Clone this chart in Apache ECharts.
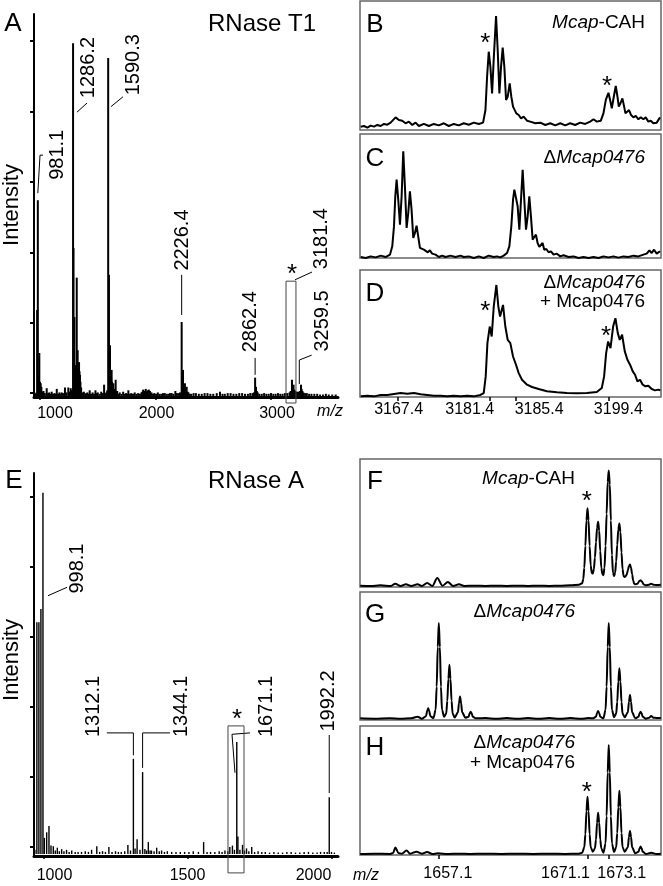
<!DOCTYPE html>
<html><head><meta charset="utf-8">
<script src="https://cdn.jsdelivr.net/npm/echarts@6/dist/echarts.min.js"></script>
<style>html,body{margin:0;padding:0;background:#fff;}#c{width:663px;height:886px;}</style>
</head><body><div id="c"></div>
<script>
// ---------- DATA ----------
// Panel A: RNase T1 full spectrum [m/z, intensity]
const spectrumA = [[952,0.05],[960,0.03],[968,0.04],[975,1.22],[981.1,2.78],[988,0.30],[994,0.61],[1000,0.20],[1006,0.18],[1012,0.13],[1020,0.06],[1030,0.07],[1042,0.04],[1058,0.11],[1070,0.04],[1080,0.05],[1090,0.03],[1101,0.06],[1112,0.03],[1125,0.04],[1135,0.03],[1145,0.10],[1156,0.03],[1168,0.05],[1178,0.03],[1188,0.05],[1200,0.04],[1216,0.12],[1230,0.05],[1245,0.12],[1255,0.06],[1266,0.11],[1276,0.08],
[1286.2,5.01],[1290,2.10],[1294,0.45],[1298,1.12],[1302,0.42],[1306,0.44],[1310,0.40],[1314,0.43],[1318,1.68],[1322,0.42],[1326,0.65],[1330,0.38],[1334,0.41],[1338,0.48],[1342,0.35],[1346,0.30],[1350,0.20],[1356,0.12],[1365,0.05],
[1372,0.03],[1380,0.06],[1392,0.03],[1400,0.04],[1410,0.05],[1420,0.03],[1430,0.08],[1442,0.03],[1455,0.05],[1468,0.03],[1480,0.08],[1490,0.04],[1500,0.05],[1515,0.03],[1530,0.06],[1542,0.04],[1555,0.16],[1565,0.04],[1575,0.05],[1582,0.08],
[1590.3,4.80],[1597,1.72],[1602,0.40],[1606,0.72],[1612,0.30],[1616,0.25],[1620,0.37],[1624,0.20],[1628,0.15],[1635,0.18],[1645,0.10],[1650,0.08],[1655,0.23],[1662,0.06],[1668,0.07],[1680,0.03],[1690,0.05],[1705,0.03],[1720,0.06],[1732,0.03],[1745,0.04],[1755,0.03],[1765,0.08],[1778,0.03],[1790,0.04],[1805,0.03],[1820,0.05],[1835,0.03],[1850,0.04],[1865,0.03],[1878,0.05],[1885,0.06],[1893,0.09],[1898,0.06],[1905,0.07],[1910,0.06],[1915,0.10],[1922,0.06],[1930,0.08],[1936,0.06],[1942,0.09],[1947,0.06],[1952,0.07],[1958,0.04],[1965,0.05],[1978,0.03],[1990,0.04],[2005,0.03],[2020,0.05],[2035,0.03],[2050,0.03],[2065,0.04],[2080,0.04],[2095,0.03],[2110,0.03],[2125,0.04],[2140,0.04],[2155,0.03],[2172,0.07],[2185,0.04],[2200,0.04],[2212,0.05],
[2226.4,1.05],[2232,0.20],[2238,0.37],[2246,0.12],[2255,0.18],[2262,0.08],[2270,0.13],[2278,0.06],[2285,0.05],[2297,0.03],[2310,0.03],[2330,0.04],[2350,0.04],[2375,0.03],[2400,0.03],[2425,0.04],[2450,0.04],[2475,0.03],[2500,0.03],[2530,0.04],[2558,0.06],[2580,0.03],[2600,0.03],[2625,0.04],[2650,0.04],[2675,0.03],[2700,0.03],[2725,0.04],[2750,0.04],[2775,0.03],[2800,0.03],[2820,0.04],[2840,0.04],[2852,0.05],
[2862.4,0.26],[2870,0.13],[2877,0.07],[2885,0.05],[2900,0.03],[2920,0.03],[2940,0.04],[2960,0.03],[2980,0.03],[3000,0.04],[3020,0.03],[3040,0.03],[3060,0.04],[3080,0.03],[3100,0.03],[3120,0.04],[3140,0.04],[3160,0.05],[3170,0.07],
[3181.4,0.23],[3188,0.12],[3195,0.16],[3202,0.09],[3210,0.07],[3225,0.06],[3240,0.06],[3250,0.07],[3259.5,0.16],[3265,0.10],[3272,0.07],[3280,0.05],[3295,0.04],[3310,0.04],[3330,0.03],[3350,0.03],[3375,0.03],[3400,0.03],[3425,0.02],[3450,0.02],[3475,0.03],[3500,0.02],[3530,0.02],[3560,0.02]];
// Panel E: RNase A full spectrum
const spectrumE = [[970,0.06],[977,3.31],[984,3.31],[991,3.50],[998.1,5.16],[1003,0.23],[1011,0.31],[1019,0.40],[1026,0.12],[1034,0.11],[1041,0.05],[1048,0.09],[1055,0.04],[1063,0.07],[1071,0.04],[1080,0.06],[1089,0.03],[1098,0.05],[1110,0.03],[1120,0.03],[1132,0.03],[1145,0.04],[1156,0.03],[1167,0.06],[1185,0.11],[1195,0.03],[1205,0.04],[1215,0.03],[1227,0.10],[1238,0.03],[1250,0.04],[1260,0.03],[1270,0.03],[1282,0.04],[1293,0.13],[1302,0.05],
[1312.1,1.36],[1318,0.08],[1325,0.21],[1335,0.06],[1344.1,1.17],[1352,0.07],[1358,0.05],[1364,0.17],[1370,0.05],[1375,0.05],[1384,0.04],[1393,0.09],[1402,0.04],[1410,0.05],[1420,0.03],[1430,0.04],[1445,0.03],[1460,0.03],[1475,0.03],[1490,0.03],[1505,0.03],[1520,0.04],[1538,0.03],[1556,0.17],[1568,0.03],[1580,0.03],[1595,0.03],[1610,0.04],[1620,0.03],[1630,0.05],[1640,0.04],[1647,0.10],[1656,0.12],[1663,0.06],
[1671.1,1.60],[1675,0.25],[1682,0.06],[1691,0.13],[1698,0.05],[1705,0.08],[1713,0.04],[1723,0.10],[1733,0.03],[1745,0.04],[1758,0.03],[1770,0.03],[1785,0.02],[1800,0.03],[1815,0.02],[1830,0.02],[1845,0.03],[1860,0.03],[1875,0.02],[1890,0.02],[1905,0.03],[1920,0.03],[1935,0.02],[1950,0.02],[1962,0.03],[1975,0.03],[1985,0.03],[1992.2,0.81],[2000,0.03],[2010,0.02]];
// Panels B-D (m/z 3162-3207), intensity in % of panel height
const traceB = [[3161.80,2.6],[3162.30,3.1],[3162.81,1.8],[3163.31,3.4],[3163.82,2.6],[3164.32,3.9],[3164.83,3.1],[3165.33,4.7],[3165.84,4.1],[3166.34,5.7],[3167.10,9.8],[3167.60,7.8],[3168.11,7.2],[3168.61,5.2],[3169.12,6.5],[3169.62,3.9],[3170.13,5.7],[3170.63,3.1],[3171.39,4.7],[3172.15,3.1],[3172.91,4.7],[3173.66,3.6],[3174.42,5.2],[3175.18,3.1],[3175.94,4.7],[3176.69,3.6],[3177.45,5.2],[3178.21,4.1],[3178.97,5.7],[3179.73,4.7],[3180.38,5.7],[3180.74,15.5],[3180.99,41.3],[3181.24,60.7],[3181.49,49.1],[3181.75,28.4],[3182.00,55.0],[3182.35,88.4],[3182.60,62.0],[3182.86,28.4],[3183.11,49.1],[3183.36,63.8],[3183.61,49.1],[3183.87,23.3],[3184.12,25.8],[3184.42,36.2],[3184.67,25.8],[3184.93,18.1],[3185.18,16.8],[3185.43,12.9],[3185.79,11.6],[3186.14,9.0],[3186.54,10.3],[3187.05,7.2],[3187.55,6.5],[3188.31,5.2],[3189.07,5.7],[3189.83,3.9],[3190.58,5.2],[3191.34,3.6],[3192.10,5.2],[3192.86,3.6],[3193.61,5.2],[3194.37,3.9],[3195.13,5.7],[3195.89,4.7],[3196.64,6.5],[3197.15,8.3],[3197.65,6.5],[3198.26,7.2],[3198.66,12.9],[3199.02,23.3],[3199.42,28.9],[3199.67,23.3],[3199.93,16.8],[3200.23,25.8],[3200.53,34.1],[3200.79,25.8],[3200.99,18.1],[3201.24,20.7],[3201.54,24.5],[3201.80,18.1],[3202.00,12.9],[3202.30,14.2],[3202.55,15.5],[3202.86,11.6],[3203.21,9.8],[3203.56,10.9],[3203.97,8.3],[3204.32,9.8],[3204.73,8.3],[3205.08,9.8],[3205.48,6.5],[3205.84,7.2],[3206.24,5.2],[3206.75,5.7],[3207.25,9.8]];
const traceC = [[3161.80,0.8],[3162.55,0],[3163.31,1.3],[3164.07,0.5],[3164.83,1.9],[3165.58,0.8],[3166.24,2.7],[3166.59,9.4],[3166.85,25.5],[3167.05,49.7],[3167.25,63.2],[3167.50,47.0],[3167.76,26.9],[3168.01,49.7],[3168.26,86.0],[3168.51,57.8],[3168.77,24.2],[3169.02,36.3],[3169.27,53.8],[3169.52,39.0],[3169.78,16.1],[3170.03,20.2],[3170.28,26.1],[3170.53,17.5],[3170.79,8.1],[3171.09,9.4],[3171.39,6.7],[3171.69,8.1],[3171.99,4.6],[3172.30,6.2],[3172.65,3.5],[3173.16,2.7],[3173.66,0.8],[3174.17,1.9],[3174.67,0.8],[3175.43,1.9],[3176.19,0.8],[3176.95,1.9],[3177.45,0.8],[3178.21,1.3],[3178.97,0],[3179.73,1.3],[3180.48,0],[3181.24,1.9],[3182.00,0.8],[3182.50,1.3],[3183.01,0.5],[3183.51,1.9],[3184.02,4.0],[3184.37,9.4],[3184.67,25.5],[3184.93,47.0],[3185.13,55.1],[3185.38,56.5],[3185.63,41.7],[3185.89,22.8],[3186.14,47.0],[3186.39,71.2],[3186.64,47.0],[3186.90,22.8],[3187.15,33.6],[3187.40,49.7],[3187.65,33.6],[3187.91,14.8],[3188.16,16.9],[3188.41,18.8],[3188.66,12.1],[3188.92,8.9],[3189.17,9.9],[3189.42,12.1],[3189.67,6.7],[3189.98,7.3],[3190.33,4.6],[3190.69,5.4],[3191.09,2.7],[3191.59,3.5],[3192.10,1.3],[3192.60,2.2],[3193.36,0.8],[3194.12,1.3],[3194.88,0],[3195.63,0.8],[3196.39,0],[3197.15,0.8],[3197.91,0],[3198.66,1.3],[3199.42,0.5],[3200.18,1.3],[3200.94,0.3],[3201.69,1.3],[3202.45,0.8],[3203.21,1.9],[3203.97,1.3],[3204.73,2.7],[3205.23,3.5],[3205.64,6.2],[3205.99,4.0],[3206.34,6.7],[3206.75,3.5],[3207.25,5.4]];
const traceD = [[3161.80,0.5],[3162.81,1.0],[3163.82,0.5],[3164.83,1.6],[3165.84,1.6],[3166.85,2.4],[3167.86,3.1],[3168.87,2.6],[3169.88,3.1],[3170.89,2.1],[3171.90,1.6],[3172.91,1.0],[3173.92,1.0],[3174.93,0.5],[3175.94,1.0],[3176.95,0.5],[3177.96,1.0],[3178.97,0.5],[3179.98,1.6],[3180.48,3.1],[3180.78,16.2],[3181.04,42.4],[3181.39,55.5],[3181.69,47.6],[3182.00,71.2],[3182.40,88.2],[3182.70,71.2],[3182.96,63.4],[3183.41,72.5],[3183.76,55.5],[3184.12,45.0],[3184.52,42.4],[3184.93,31.9],[3185.38,25.4],[3185.79,18.8],[3186.29,13.6],[3187.05,9.7],[3187.81,7.9],[3188.82,6.3],[3190.08,4.5],[3191.59,3.7],[3193.11,3.1],[3194.62,2.9],[3196.14,3.1],[3197.65,3.9],[3198.41,7.1],[3198.76,16.2],[3199.07,34.6],[3199.37,43.7],[3199.73,38.5],[3200.13,55.5],[3200.48,62.0],[3200.84,50.3],[3201.14,45.0],[3201.49,49.0],[3201.90,35.9],[3202.30,29.3],[3202.70,25.4],[3203.11,20.2],[3203.46,17.5],[3203.82,12.3],[3204.22,13.6],[3204.62,9.7],[3205.03,8.4],[3205.48,8.9],[3205.99,6.3],[3206.49,5.2],[3207.00,5.8],[3207.30,5.2]];
// Panels F-H (m/z 1650-1678)
const traceF = [[1649.7,1.0],[1650.7,0.8],[1651.6,1.3],[1652.6,0.8],[1653.0,2.6],[1653.5,0.8],[1654.0,2.1],[1654.5,0.8],[1655.1,2.1],[1655.5,0.8],[1656.0,3.1],[1656.5,0.8],[1656.95,7.1],[1657.45,1.0],[1657.95,3.9],[1658.45,0.8],[1659.0,2.1],[1659.5,0.8],[1660.5,1.0],[1661.5,0.8],[1662.5,1.0],[1663.5,0.8],[1664.5,1.0],[1665.5,0.8],[1666.5,1.0],[1667.5,0.8],[1668.5,1.0],[1669.5,1.3],[1670.3,1.8],
[1670.6,3],[1670.7,6],[1670.8,15],[1670.9,32],[1671.0,52],[1671.1,61.5],[1671.2,52],[1671.3,32],[1671.4,17],[1671.5,11],[1671.6,10.5],
[1671.7,14],[1671.8,23],[1671.9,35],[1672.0,46],[1672.1,51],[1672.2,44],[1672.3,28],[1672.4,15],[1672.5,10],[1672.6,9.2],
[1672.7,15],[1672.8,32],[1672.9,57],[1673.0,82],[1673.1,91],[1673.2,80],[1673.3,52],[1673.4,25],[1673.5,11],[1673.6,8.6],
[1673.7,11],[1673.8,20],[1673.9,33],[1674.0,45],[1674.1,49.7],[1674.2,43],[1674.3,27],[1674.4,14],[1674.5,8.5],[1674.6,7.9],
[1674.7,8.5],[1674.8,10],[1674.9,13],[1675.0,16.5],[1675.1,17.5],[1675.2,15],[1675.3,10],[1675.4,5],[1675.5,2.5],[1675.6,2.1],
[1675.8,2.5],[1676.0,4.8],[1676.1,5.2],[1676.2,4.5],[1676.4,2.0],[1676.6,1.3],[1676.9,1.8],[1677.1,2.6],[1677.3,1.8],[1677.6,1.5],[1678.0,1.8]];
const traceG = [[1649.7,1.3],[1651.0,1.0],[1652.5,1.3],[1653.5,1.0],[1654.5,1.3],[1655.1,2.6],[1655.5,1.0],
[1655.9,3],[1656.0,7],[1656.1,9.1],[1656.2,7],[1656.3,3],[1656.6,1.5],
[1656.8,8],[1656.9,26],[1657.0,57],[1657.1,75.7],[1657.2,57],[1657.3,26],[1657.4,8],[1657.6,2.5],
[1657.8,5],[1657.9,15],[1658.0,32],[1658.1,43.1],[1658.2,32],[1658.3,15],[1658.4,5],[1658.6,2.0],
[1658.9,6],[1659.0,13],[1659.1,18.3],[1659.2,13],[1659.3,6],[1659.6,1.8],
[1659.9,2.5],[1660.0,5],[1660.1,6.5],[1660.2,5],[1660.3,2.5],[1660.6,1.3],
[1661.5,1.5],[1662.5,1.0],[1663.5,1.5],[1664.5,1.0],[1665.5,1.5],[1666.5,1.0],[1667.5,1.5],[1668.5,1.0],[1669.5,1.5],[1670.5,1.0],[1671.2,1.5],[1671.6,1.3],
[1671.9,2.5],[1672.0,5.5],[1672.1,7.0],[1672.2,5.5],[1672.3,2.5],[1672.6,1.3],
[1672.8,8],[1672.9,26],[1673.0,57],[1673.1,75.7],[1673.2,57],[1673.3,26],[1673.4,8],[1673.6,2.1],
[1673.8,5],[1673.9,14],[1674.0,30],[1674.1,40.5],[1674.2,30],[1674.3,14],[1674.4,5],[1674.6,2.1],
[1674.9,6],[1675.0,14],[1675.1,19.6],[1675.2,14],[1675.3,6],[1675.6,1.3],
[1675.9,2.5],[1676.0,5],[1676.1,6.5],[1676.2,5],[1676.3,2.5],[1676.6,1.0],
[1676.9,1.8],[1677.1,3.1],[1677.3,1.8],[1677.6,1.6],[1678.0,1.5]];
const traceH = [[1649.7,0.8],[1651.0,1.0],[1652.5,0.8],[1652.8,1.5],[1653.0,5.9],[1653.3,1.5],[1653.6,1.0],[1654.06,3.4],[1654.4,1.0],[1655.0,2.6],[1655.5,1.0],[1656.0,2.3],[1656.5,0.8],[1657.0,1.3],[1658.0,0.8],[1659.0,1.0],[1660.0,0.8],[1661.5,1.0],[1663.0,0.8],[1664.5,1.0],[1666.0,0.8],[1667.5,1.0],[1669.0,0.8],[1670.3,1.0],
[1670.6,1.8],[1670.8,6],[1670.9,16],[1671.0,34],[1671.1,45.2],[1671.2,34],[1671.3,16],[1671.4,6],[1671.6,2.6],
[1671.8,5],[1671.9,12],[1672.0,25],[1672.1,32.8],[1672.2,25],[1672.3,12],[1672.4,5],[1672.6,1.8],
[1672.8,9],[1672.9,30],[1673.0,64],[1673.1,85.3],[1673.2,64],[1673.3,30],[1673.4,9],[1673.6,2.3],
[1673.8,6],[1673.9,17],[1674.0,37],[1674.1,49.9],[1674.2,37],[1674.3,17],[1674.4,6],[1674.6,2.6],
[1674.9,6],[1675.0,14],[1675.1,18.6],[1675.2,14],[1675.3,6],[1675.6,1.3],
[1675.9,2.5],[1676.0,5],[1676.1,6.5],[1676.2,5],[1676.3,2.5],[1676.6,0.8],
[1677.1,1.8],[1677.6,0.8],[1678.0,1.0]];
// Tick values / labels
const ticksA = [1000, 2000, 3000];
const ticksE = [1000, 1500, 2000];
const ticksD = [3167.4, 3181.4, 3185.4, 3199.4];
const ticksH = [1657.1, 1671.1, 1673.1];
const yTicksA = [0.04, 1.04, 2.04, 3.04, 4.04, 5.04];
const yTicksE = [0.1, 1.1, 2.1, 3.1, 4.1, 5.1];
// Peak labels
const peakLabelsA = ['981.1', '1286.2', '1590.3', '2226.4', '2862.4', '3181.4', '3259.5'];
const peakLabelsE = ['998.1', '1312.1', '1344.1', '1671.1', '1992.2'];

// ---------- CHART ----------
const FONT = "'Liberation Sans', Arial, Helvetica, sans-serif";
const chart = echarts.init(document.getElementById('c'), null, {renderer: 'canvas'});
const grids = [
  {left:34, top:14, width:304, height:383},
  {left:360, top:1, width:301, height:129},
  {left:360, top:134, width:301, height:124},
  {left:360, top:270, width:301, height:127},
  {left:34, top:473, width:304, height:383},
  {left:360, top:459, width:301, height:128},
  {left:360, top:592, width:301, height:128},
  {left:360, top:726, width:301, height:129}
].map((g, i) => Object.assign({
  show: (i !== 0 && i !== 4), borderColor: '#666', borderWidth: 1.5, backgroundColor: 'transparent'
}, g));

const hidden = (gi, min, max) => ({type:'value', gridIndex: gi, min, max, show:false, splitLine:{show:false}});
function bigX(gi, min, max, ticks) {
  return {type:'value', gridIndex: gi, min, max, splitLine:{show:false},
    axisLine:{show:true, onZero:false, lineStyle:{color:'#000', width:3}},
    axisTick:{show:true, customValues: ticks, length:3, lineStyle:{color:'#000', width:1.5}},
    axisLabel:{show:false}};
}
function bigY(gi, min, max, ticks) {
  return {type:'value', gridIndex: gi, min, max, splitLine:{show:false},
    axisLine:{show:true, onZero:false, lineStyle:{color:'#000', width:2}},
    axisTick:{show:true, customValues: ticks, length:4, lineStyle:{color:'#000', width:2}},
    axisLabel:{show:false}};
}
function smallX(gi, min, max, ticks) {
  return {type:'value', gridIndex: gi, min, max, splitLine:{show:false},
    axisLine:{show:false, onZero:false},
    axisTick:{show:true, customValues: ticks, length:4, lineStyle:{color:'#000', width:1.5}},
    axisLabel:{show:false}};
}
const X1 = [3161.69, 3207.4], X2 = [1649.68, 1678.02];
const xAxis = [
  bigX(0, 948, 3580, ticksA),
  hidden(1, X1[0], X1[1]), hidden(2, X1[0], X1[1]), smallX(3, X1[0], X1[1], ticksD),
  bigX(4, 967, 2022.6, ticksE),
  hidden(5, X2[0], X2[1]), hidden(6, X2[0], X2[1]), smallX(7, X2[0], X2[1], ticksH)
];
const yAxis = [
  bigY(0, -0.015, 5.425, yTicksA),
  hidden(1, 0, 100), hidden(2, 0, 100), hidden(3, 0, 100),
  bigY(4, -0.0286, 5.443, yTicksE),
  hidden(5, 0, 100), hidden(6, 0, 100), hidden(7, 0, 100)
];
const bar = (i, d, w) => ({type:'bar', xAxisIndex:i, yAxisIndex:i, data:d, barWidth:w, itemStyle:{color:'#000'}, silent:true});
const line = (i, d, sm) => ({type:'line', xAxisIndex:i, yAxisIndex:i, data:d, symbol:'none', smooth:sm, smoothMonotone:'x',
  lineStyle:{color:'#000', width:2}, silent:true});
chart.setOption({
  animation:false,
  grid: grids, xAxis, yAxis,
  series: [bar(0, spectrumA, 2), line(1, traceB, false), line(2, traceC, false), line(3, traceD, false),
           bar(4, spectrumE, 1.4), line(5, traceF, 0.3), line(6, traceG, 0.3), line(7, traceH, 0.3)]
});

// ---------- ANNOTATIONS ----------
const P = (gi, p) => chart.convertToPixel({gridIndex: gi}, p);
const G = [];
function txt(t, x, y, size, opt) {
  G.push(Object.assign({type:'text', x, y, z:100, style:Object.assign({text:t, fill:'#000', fontSize:size, fontFamily:FONT,
    align:'center', verticalAlign:'middle'}, (opt && opt.style) || {})}, (opt && opt.el) || {}));
}
function rotLabel(gi, t, at) {
  const p = P(gi, at);
  G.push({type:'text', x:p[0], y:p[1], rotation:Math.PI/2, z:100,
    style:{text:t, fill:'#000', fontSize:20, fontFamily:FONT, align:'left', verticalAlign:'middle'}});
}
function leader(gi, pts) {
  G.push({type:'polyline', z:100, shape:{points: pts.map(q => P(gi, q))}, style:{stroke:'#000', lineWidth:1, fill:null}});
}
function box(gi, a, b) {
  const p1 = P(gi, a), p2 = P(gi, b);
  G.push({type:'rect', z:100, shape:{x:Math.min(p1[0],p2[0]), y:Math.min(p1[1],p2[1]), width:Math.abs(p2[0]-p1[0]), height:Math.abs(p2[1]-p1[1])},
    style:{stroke:'#444', lineWidth:1, fill:null}});
}
function star(gi, at) {
  const p = P(gi, at);
  txt('*', p[0], p[1] + 7, 26);
}
function tickLabels(gi, vals, offs, y, dec) {
  vals.forEach((v, k) => {
    const p = P(gi, [v, 0]);
    txt(dec ? v.toFixed(1) : String(v), p[0] + offs[k], y, 16);
  });
}
tickLabels(0, ticksA, [15, 1, 6], 414, false);
tickLabels(4, ticksE, [11, 0, -18], 876, false);
tickLabels(3, ticksD, [1, -20, 23, 10], 410, true);
tickLabels(7, ticksH, [9, -22, 13], 874, true);
// A labels
const posA = [[1147,3.07],[1416,4.23],[1805,4.27],[2236,1.78],[2820,0.62],[3433,1.80],[3442,0.63]];
const leadA = [
  [[981.1,2.88],[1000,3.42],[1026,3.42]],
  [[1320,4.03],[1407,4.16]],
  [[1615,4.11],[1719,4.25]],
  [[2226.4,1.15],[2226.4,1.72]],
  [[2862.4,0.30],[2862.4,0.54]],
  [[3208,1.65],[3355,1.76]],
  [[3245,0.17],[3245,0.51],[3352,0.58]]
];
peakLabelsA.forEach((t, k) => { rotLabel(0, t, posA[k]); leader(0, leadA[k]); });
box(0, [3130,-0.1], [3216,1.63]);
star(0, [3182,1.82]);
// E labels
const posE = [[1118,3.72],[1172,1.67],[1479,1.67],[1774,1.67],[1990,1.75]];
const leadE = [
  [[1015.6,3.69],[1081.6,3.81]],
  [[1220,1.73],[1312.1,1.73],[1312.1,1.41]],
  [[1439,1.73],[1344.1,1.73],[1344.1,1.23]],
  [[1664.9,1.16],[1654.5,1.71],[1717,1.73]],
  [[1992.2,0.87],[1992.2,1.70]]
];
peakLabelsE.forEach((t, k) => { rotLabel(4, t, posE[k]); leader(4, leadE[k]); });
box(4, [1640.6,-0.27], [1696.2,1.83]);
star(4, [1672,2.01]);
// small panel stars
star(1, [3180.73,72.1]); star(1, [3199.2,38.8]);
star(3, [3180.73,72.5]); star(3, [3199.07,52.9]);
star(5, [1671.04,72]); star(7, [1671.04,53.5]);
// panel letters & titles
[['A',13,24],['E',14,481],['B',375,25],['C',375,159],['D',375,294],['F',375,482],['G',375,615],['H',375,748]]
  .forEach(a => txt(a[0], a[1], a[2], 26));
txt('RNase T1', 262, 24, 24);
txt('RNase A', 256, 481, 24);
txt('Intensity', 12, 205, 22, {el:{rotation:Math.PI/2}});
txt('Intensity', 12, 660, 22, {el:{rotation:Math.PI/2}});
const rich = {i:{fontStyle:'italic', fontSize:19, fontFamily:FONT, fill:'#000'}, n:{fontSize:19, fontFamily:FONT, fill:'#000'}};
function sub(t, x, y) { txt(t, x, y, 19, {style:{align:'right', rich}}); }
sub('{i|Mcap}{n|-CAH}', 645, 23);
sub('{n|Δ}{i|Mcap0476}', 645, 158);
sub('{n|Δ}{i|Mcap0476}', 645, 283);
sub('{n|+ Mcap0476}', 645, 302);
sub('{i|Mcap}{n|-CAH}', 575, 479);
sub('{n|Δ}{i|Mcap0476}', 575, 612);
sub('{n|Δ}{i|Mcap0476}', 575, 743);
sub('{n|+ Mcap0476}', 575, 763);
txt('m/z', 330, 412, 16, {style:{fontStyle:'italic'}});
txt('m/z', 366, 876, 16, {style:{fontStyle:'italic'}});
chart.setOption({graphic: G});
</script>
</body></html>
